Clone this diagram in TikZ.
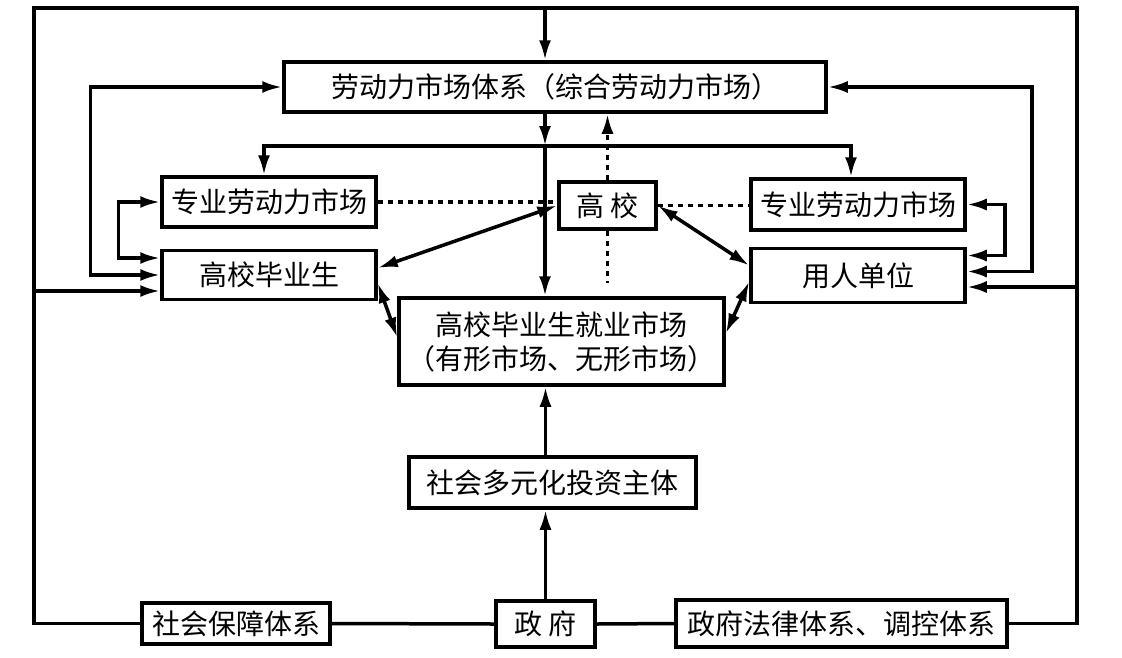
\documentclass[tikz,border=0pt]{standalone}
\usepackage{fontspec}
\newfontfamily\zhfont{Noto Sans CJK SC}
\usepackage{tikz}
\usetikzlibrary{arrows.meta, positioning, calc}
\tikzset{
    mktbox/.style={rectangle, draw=black, line width=3.5pt, inner sep=2pt, align=center, minimum width=214pt, minimum height=50pt, font=\zhfont\fontsize{28}{34}\selectfont},
    plainline/.style={line width=3.5pt, black},
    dotline/.style={line width=3.5pt, black, dash pattern=on 5pt off 5pt},
}

\begin{document}
\begin{tikzpicture}[x=1pt, y=1pt,
  % solid arrows
  arr/.style={plainline, -{Latex[length=20pt,width=12pt]}},
  dblarr/.style={plainline, {Latex[length=20pt,width=12pt]}-{Latex[length=20pt,width=12pt]}},
  % dotted arrow
  dotarr/.style={dotline, -{Latex[length=20pt,width=12pt]}}
]
\useasboundingbox (0,0) rectangle (1122,-657);

% Top - labour market system
\node[mktbox, minimum width=542pt] (labor) at (555,-87) {劳动力市场体系（综合劳动力市场）};

% Left column - graduates
\node[mktbox] (proL) at (269,-202) {专业劳动力市场};
\node[mktbox, minimum height=49pt, below=20pt of proL] (grad) {高校毕业生};

% Middle - university and graduate job market
\node[mktbox, minimum width=97pt, minimum height=47pt] (univ) at (607.5,-205.5) {高 校};
\node[mktbox, minimum width=325pt, minimum height=87pt] (jobmkt) at (561.5,-341.5) {高校毕业生就业市场\\（有形市场、无形市场）};

% Right column - employers
\node[mktbox, minimum height=51pt] (proR) at (858,-204.5) {专业劳动力市场};
\node[mktbox, minimum height=54pt, below=15pt of proR] (employer) {用人单位};

% Bottom - investors and government
\node[mktbox, minimum width=287pt, minimum height=51pt] (invest) at (552.5,-482.5) {社会多元化投资主体};
\node[mktbox, minimum width=99pt, minimum height=46pt] (gov) at (545.5,-624) {政 府};
\node[mktbox, minimum width=188pt, minimum height=41pt] (social) at (236,-623.5) {社会保障体系};
\node[mktbox, minimum width=331pt, minimum height=47pt] (law) at (841.5,-623.5) {政府法律体系、调控体系};

\coordinate (topL) at (34,-8);
\coordinate (topR) at (1077,-8);
\coordinate (feed) at (545,-8);
\coordinate (hub) at (545,-146);
\coordinate (sideL) at (34,-291);
\coordinate (sideR) at (1077,-287);

% Outer frame
\draw[plainline] (social.west) -| (topL) -- (topR) |- (law.east);
\draw[plainline] (social.east) -- (gov.west);
\draw[plainline] (gov.east) -- (law.west);
\draw[arr] (feed) -- (feed |- labor.north);
\draw[arr] (sideL) -- (sideL -| grad.west);
\draw[arr] (sideR) -- (sideR -| employer.east);

% Labour market down to the job market
\draw[arr] (hub |- labor.south) -- (hub);
\draw[arr] (hub) -- (hub |- jobmkt.north);
\draw[dblarr] ([xshift=-5pt]proL.north) |- (hub) -| ([xshift=-7pt]proR.north);

% Side loops
\draw[dblarr] (labor.west) -- ++(-192,0) |- (grad.west);
\draw[dblarr] (proL.west) -- ++(-42,0) |- ([yshift=17pt]grad.west);
\draw[dblarr] (labor.east) -- ++(204,0) |- ([yshift=4pt]employer.east);
\draw[dblarr] (proR.east) -- ++(38,0) |- ([yshift=20pt]employer.east);

% University links (dotted)
\draw[dotline] (proL.east) -- (proL.east -| univ.west);
\draw[dotline] (univ.east) -- (univ.east -| proR.west);
\draw[dotarr] (univ.north) -- (univ.north |- labor.south);
\draw[dotline] (univ.south) -- ($(univ.south |- jobmkt.north)+(0,13)$);

% Two-way links
\draw[dblarr] ([yshift=7pt]grad.east) -- (univ.west);
\draw[dblarr] (univ.east) -- ([yshift=10pt]employer.west);
\draw[dblarr] ([yshift=-8pt]grad.east) -- ([yshift=4pt]jobmkt.west);
\draw[dblarr] ([yshift=8pt]jobmkt.east) -- ([yshift=-6pt]employer.west);

% Government and investors
\draw[arr] (gov.north) -- (gov.north |- invest.south);
\draw[arr] (gov.north |- invest.north) -- (gov.north |- jobmkt.south);
\end{tikzpicture}
\end{document}
